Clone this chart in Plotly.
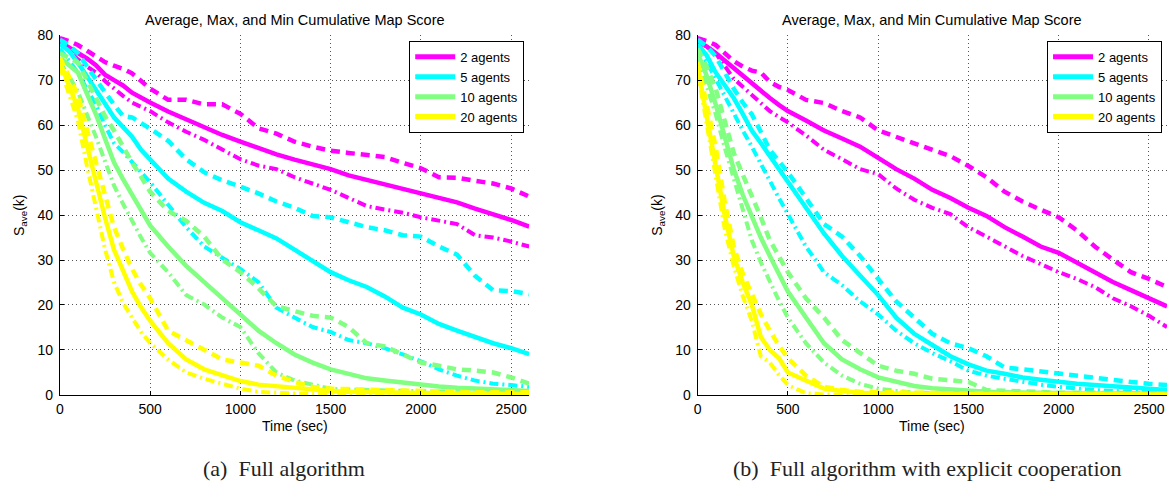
import plotly.graph_objects as go

# ---------------- data ----------------
T = [0, 50, 100, 150, 200, 250, 300, 350, 400, 450, 500,
     600, 700, 800, 900, 1000, 1100, 1200, 1300, 1400, 1500, 1600,
     1700, 1800, 1900, 2000, 2100, 2200, 2300, 2400, 2500, 2600]

agents = ["2 agents", "5 agents", "10 agents", "20 agents"]
colors = ["#FF00FF", "#00FFFF", "#80FF80", "#FFFF00"]

# (a) Full algorithm
mag_avg_a = [78.5, 77.3, 76, 74.8, 73.3, 71.2, 70, 68.8, 67.2, 66, 65,
             63, 61.3, 59.4, 57.8, 56.3, 54.8, 53.5, 52.3, 51.2, 50.2, 48.8,
             47.8, 46.7, 45.7, 44.7, 43.7, 42.8, 41.4, 40.2, 38.9, 37.4]
mag_max_a = [79.3, 78.7, 77.8, 76.5, 75.3, 74, 73.2, 72.5, 71.5, 69.8, 68.1,
             65.6, 65.6, 64.6, 64.6, 62.5, 59.3, 58.1, 56.3, 55.2, 54.3, 53.8,
             53.4, 52.9, 51.6, 50.4, 48.4, 48.3, 47.6, 47, 45.9, 44.1]
mag_min_a = [78.5, 76.5, 74.6, 73, 71.7, 69.8, 68.1, 66.5, 65, 64, 63.1,
             60.6, 58.5, 56.7, 54.5, 52.4, 51, 50.2, 48.4, 47, 45.6, 43.8,
             42, 41.2, 40.5, 39.5, 38.7, 38, 35.5, 35, 34.1, 33]
cya_avg_a = [78, 76.5, 73.9, 71, 68.1, 64.8, 61.7, 59.5, 57.4, 54.5, 52.4,
             48.1, 45.2, 42.7, 40.9, 38.4, 36.6, 34.8, 32.3, 29.8, 27.3, 25.5,
             24, 21.9, 19.4, 17.9, 15.8, 14.3, 12.9, 11.5, 10.4, 9.1]
cya_max_a = [79, 77.8, 76, 73, 70.3, 67.3, 64.6, 62, 61.7, 60.3, 59.2,
             56.5, 52.4, 49.5, 47.7, 46.3, 44.8, 43, 41.6, 39.8, 39.5, 38.4,
             37.3, 36.6, 35.5, 35.2, 33, 31.2, 26.5, 23.3, 23.1, 22.4]
cya_min_a = [77, 74.5, 71.7, 68, 64.6, 60, 56, 54, 51.7, 49.5, 47.3,
             42.3, 37.3, 33, 30.5, 28, 25.1, 19.4, 17.2, 15.1, 14, 12.2,
             11.5, 10.4, 9, 7.5, 5.7, 4.3, 3.2, 2.5, 2.2, 1.8]
grn_avg_a = [75, 73.5, 71.7, 67, 62.4, 57, 51.7, 48, 44.5, 41, 37.7,
             33, 28.7, 25.1, 21.5, 17.9, 14.3, 11.5, 9, 7.2, 5.7, 4.7,
             3.7, 3.2, 2.7, 2.3, 1.9, 1.6, 1.4, 1.2, 1.0, 0.9]
grn_max_a = [76, 75, 73.9, 70, 66, 62, 58.8, 55, 51.7, 48.5, 45.2,
             40.9, 38.7, 35.2, 30.1, 27.3, 23.7, 19.7, 18.7, 17.6, 17.2, 15.1,
             11.5, 10.8, 9, 7.2, 6.5, 5.7, 5.4, 5, 3.9, 2.5]
grn_min_a = [74, 71, 67.4, 62.5, 57.4, 52, 46.6, 42.5, 38.7, 35, 31.6,
             27.3, 22.2, 20.1, 17.2, 15.1, 9.3, 5, 3.2, 2.2, 1.4, 1.2,
             1.1, 1.0, 0.8, 0.7, 0.6, 0.6, 0.5, 0.5, 0.4, 0.4]
yel_avg_a = [74, 69, 63.8, 55.5, 47.3, 39.5, 32.3, 27.5, 23, 19.5, 16.5,
             11.5, 7.9, 5.7, 4.3, 3.1, 2.3, 1.9, 1.5, 1.2, 0.9, 0.7,
             0.6, 0.5, 0.5, 0.4, 0.4, 0.3, 0.3, 0.3, 0.2, 0.2]
yel_max_a = [75, 71, 66.7, 59, 51.7, 44, 37.3, 32.5, 28, 24.5, 21.5,
             14.3, 12.2, 10, 7.9, 7.2, 6.5, 4.3, 2.9, 1.8, 1.4, 1.3,
             1.2, 1.1, 0.9, 0.7, 0.7, 0.6, 0.6, 0.6, 0.6, 0.6]
yel_min_a = [73, 67, 61, 51, 41.6, 32.5, 25.1, 20.5, 17.2, 14, 11.5,
             7.9, 5, 3.6, 2.5, 1.4, 0.7, 0.4, 0.3, 0.2, 0.2, 0.1,
             0.1, 0.1, 0.1, 0.1, 0.1, 0.1, 0.1, 0.1, 0.1, 0.1]

# (b) Full algorithm with explicit cooperation
mag_avg_b = [78.5, 77.5, 76, 74.3, 72.5, 70.8, 69.2, 67.6, 66, 64.5, 63.1,
             61, 58.8, 57, 55.2, 52.7, 50.2, 48.1, 45.6, 43.8, 41.6, 39.8,
             37.3, 35.2, 33, 31.6, 29.4, 27.3, 25.1, 23.3, 21.5, 19.7]
mag_max_b = [79.3, 78.7, 77.8, 76, 74.2, 73, 72.1, 71.7, 69.6, 68.5, 67.8,
             65.6, 64.9, 63.1, 61.7, 58.8, 57.4, 56, 54.5, 53.1, 50.9, 48.4,
             45.2, 43, 41.2, 39.5, 36.6, 33, 30.1, 27.3, 25.8, 24]
mag_min_b = [78.5, 77.5, 76, 73, 70.3, 68.5, 66.7, 65, 63.1, 61.8, 60.6,
             57.7, 54.5, 52.4, 50.2, 49.1, 45.9, 43.4, 41.6, 40.2, 37.3, 35.2,
             33, 30.9, 29.1, 27.3, 25.8, 24, 21.5, 19.7, 17.6, 15.1]
cya_avg_b = [78, 75.5, 71.7, 69, 66, 62.5, 58.8, 56, 53.1, 50.2, 47.3,
             41.6, 35.9, 30.9, 26.5, 22.2, 17.2, 13.6, 11.1, 8.6, 6.8, 5.4,
             4.7, 3.9, 3.4, 2.9, 2.5, 2.2, 1.9, 1.6, 1.3, 1.1]
cya_max_b = [79, 77.5, 75.3, 71.5, 68.1, 65, 62.4, 58.5, 54.5, 52, 49.5,
             43.8, 38, 35.2, 30.9, 25.8, 20.8, 17.2, 13.6, 11.5, 10.4, 8.6,
             6.1, 5.7, 5.2, 4.7, 4.3, 3.9, 3.4, 2.9, 2.5, 2.2]
cya_min_b = [77, 74, 70.3, 66.3, 62.4, 58.8, 55.2, 51.3, 47.3, 43.8, 40.2,
             33, 27.3, 24.4, 20.8, 17.9, 14.3, 11.5, 9.3, 7.5, 5.4, 4.3,
             3.6, 2.9, 2.3, 1.8, 1.4, 1.1, 0.9, 0.7, 0.6, 0.6]
grn_avg_b = [76, 71, 64.6, 57, 50.2, 44.5, 39.5, 35, 30.9, 26.8, 23,
             17.2, 11.5, 7.9, 5.7, 3.9, 2.9, 2, 1.5, 1.2, 0.9, 0.7,
             0.6, 0.5, 0.5, 0.4, 0.3, 0.3, 0.3, 0.2, 0.2, 0.2]
grn_max_b = [77, 73, 68.1, 61, 53.8, 49, 44.5, 39.5, 34.4, 30.8, 27.3,
             21.5, 17.2, 12.2, 9.3, 6.5, 5.4, 4.7, 3.6, 3.2, 2.9, 1.1,
             0.9, 0.7, 0.6, 0.5, 0.5, 0.4, 0.4, 0.4, 0.4, 0.4]
grn_min_b = [75, 69, 62.4, 55, 48.1, 41, 34.4, 29.5, 25.1, 21, 17.2,
             11.5, 7.2, 4.3, 2.5, 1.4, 0.9, 0.5, 0.4, 0.3, 0.2, 0.1,
             0.1, 0.1, 0.1, 0.1, 0.1, 0.1, 0.1, 0.1, 0.1, 0.1]
yel_avg_b = [73, 62, 51.7, 40, 30.9, 25, 20.1, 12.9, 10, 8.2, 5,
             3.2, 1.4, 0.9, 0.5, 0.4, 0.3, 0.3, 0.2, 0.2, 0.2, 0.2,
             0.1, 0.1, 0.1, 0.1, 0.1, 0.1, 0.1, 0.1, 0.1, 0.1]
yel_max_b = [74, 65, 55.2, 43, 33, 27, 22.2, 18, 14.3, 11, 8.2,
             4.3, 1.8, 1.1, 0.7, 0.6, 0.5, 0.4, 0.4, 0.3, 0.3, 0.3,
             0.3, 0.2, 0.2, 0.2, 0.2, 0.2, 0.2, 0.2, 0.2, 0.2]
yel_min_b = [72, 60, 48.8, 37, 28.7, 22, 16.5, 8.6, 7.2, 4.5, 2.2,
             0.4, 0.1, 0.1, 0.1, 0.1, 0.1, 0.1, 0.1, 0.1, 0.1, 0.1,
             0.1, 0.1, 0.1, 0.1, 0.1, 0.1, 0.1, 0.1, 0.1, 0.1]

panel_a = [(mag_avg_a, mag_max_a, mag_min_a), (cya_avg_a, cya_max_a, cya_min_a),
           (grn_avg_a, grn_max_a, grn_min_a), (yel_avg_a, yel_max_a, yel_min_a)]
panel_b = [(mag_avg_b, mag_max_b, mag_min_b), (cya_avg_b, cya_max_b, cya_min_b),
           (grn_avg_b, grn_max_b, grn_min_b), (yel_avg_b, yel_max_b, yel_min_b)]

x_ticks = [0, 500, 1000, 1500, 2000, 2500]
y_ticks = [0, 10, 20, 30, 40, 50, 60, 70, 80]
plot_title = "Average, Max, and Min Cumulative Map Score"
x_title = "Time (sec)"
y_title = "S<sub>ave</sub>(k)"
captions = ["(a)  Full algorithm", "(b)  Full algorithm with explicit cooperation"]

# ---------------- figure ----------------
W, H = 1172, 491
SANS = "Liberation Sans, Arial, sans-serif"
SERIF = "Liberation Serif, Times New Roman, serif"

fig = go.Figure()

def px_x(p):
    return p / W

def px_y(p):
    return 1 - p / H

panels = [(panel_a, "x", "y", "legend"), (panel_b, "x2", "y2", "legend2")]
for panel, xa, ya, lg in panels:
    for i, (avg, mx, mn) in enumerate(panel):
        for arr in (avg, mx, mn):
            assert len(arr) == len(T)
        fig.add_trace(go.Scatter(x=T, y=avg, mode="lines", name=agents[i],
                                 line=dict(color=colors[i], width=4.5),
                                 xaxis=xa, yaxis=ya, legend=lg, showlegend=True))
        fig.add_trace(go.Scatter(x=T, y=mx, mode="lines", name=agents[i] + " max",
                                 line=dict(color=colors[i], width=4.5, dash="9px,6px"),
                                 xaxis=xa, yaxis=ya, showlegend=False))
        fig.add_trace(go.Scatter(x=T, y=mn, mode="lines", name=agents[i] + " min",
                                 line=dict(color=colors[i], width=4, dash="9px,4px,2px,4px"),
                                 xaxis=xa, yaxis=ya, showlegend=False))

plots = [(56, 527), (696, 1167)]
y_top, y_bot = 28, 400

axis_common = dict(
    showline=True, linecolor="black", linewidth=1, mirror=False,
    ticks="inside", ticklen=4, tickcolor="black", tickwidth=1,
    showgrid=True, gridcolor="#555555", gridwidth=1, griddash="1px,3px",
    zeroline=False, tickfont=dict(family=SANS, size=14, color="black"),
)

layout = dict(
    width=W, height=H, margin=dict(l=0, r=0, t=0, b=0),
    paper_bgcolor="white", plot_bgcolor="white",
    showlegend=True,
)
for k, (x0, x1) in enumerate(plots):
    sx = "" if k == 0 else "2"
    layout["xaxis" + sx] = dict(axis_common, domain=[px_x(x0), px_x(x1)], range=[0, 2600],
                                tickvals=x_ticks, anchor="y" + sx, ticklabelstandoff=1)
    layout["yaxis" + sx] = dict(axis_common, domain=[px_y(y_bot), px_y(y_top)], range=[0, 80],
                                tickvals=y_ticks, anchor="x" + sx, ticklabelstandoff=3)
    layout["legend" if k == 0 else "legend2"] = dict(
        x=px_x(x1 - 5), xanchor="right", y=px_y(34), yanchor="top",
        bgcolor="white", bordercolor="black", borderwidth=1,
        font=dict(family=SANS, size=13, color="black"),
        tracegroupgap=0, itemsizing="constant", itemwidth=40,
    )
fig.update_layout(**layout)

annotations = []
for k, (x0, x1) in enumerate(plots):
    cx = (x0 + x1) / 2
    annotations.append(dict(text=plot_title, x=px_x(cx), y=px_y(12), xref="paper", yref="paper",
                            showarrow=False, xanchor="center", yanchor="middle",
                            font=dict(family=SANS, size=14.5, color="black")))
    annotations.append(dict(text=x_title, x=px_x(cx), y=px_y(432), xref="paper", yref="paper",
                            showarrow=False, xanchor="center", yanchor="middle",
                            font=dict(family=SANS, size=14, color="black")))
    annotations.append(dict(text=y_title, x=px_x(x0 - 40), y=px_y((y_top + y_bot) / 2),
                            xref="paper", yref="paper", showarrow=False, textangle=-90,
                            xanchor="center", yanchor="middle",
                            font=dict(family=SANS, size=14, color="black")))
cap_centers = [281, 927]
for k in range(2):
    annotations.append(dict(text=captions[k], x=px_x(cap_centers[k]), y=px_y(476),
                            xref="paper", yref="paper", showarrow=False,
                            xanchor="center", yanchor="middle",
                            font=dict(family=SERIF, size=22, color="#222222")))
fig.update_layout(annotations=annotations)

fig.write_html("out.html", config={"displayModeBar": False},
               post_script="document.body.style.margin='0';document.body.style.overflow='hidden';")
